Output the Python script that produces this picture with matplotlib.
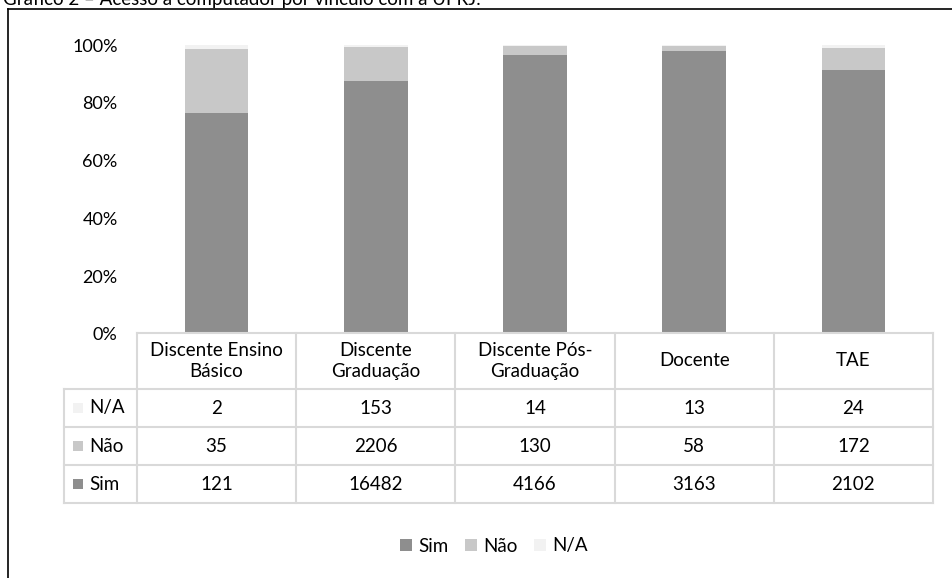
import matplotlib.pyplot as plt
from matplotlib.lines import Line2D
from matplotlib.patches import Rectangle
from matplotlib.transforms import blended_transform_factory
import numpy as np

plt.rcParams['font.family'] = ['Lato', 'DejaVu Sans']

TITLE = "Gráfico 2 – Acesso a computador por vínculo com a UFRJ."
categories = ["Discente Ensino\nBásico", "Discente\nGraduação",
              "Discente Pós-\nGraduação", "Docente", "TAE"]
sim = [121, 16482, 4166, 3163, 2102]
nao = [35, 2206, 130, 58, 172]
na = [2, 153, 14, 13, 24]

series = [("Sim", sim, "#8e8e8e"), ("Não", nao, "#c8c8c8"), ("N/A", na, "#f2f2f2")]
FS = 13.5

W, H = 953, 578
fig = plt.figure(figsize=(W / 100, H / 100), dpi=100)

# axes placed in pixel terms
ax_left, ax_right, ax_top, ax_bottom = 137, 933, 45, 334
ax = fig.add_axes([ax_left / W, 1 - ax_bottom / H,
                   (ax_right - ax_left) / W, (ax_bottom - ax_top) / H])

x = np.arange(len(categories))
totals = np.array(sim) + np.array(nao) + np.array(na)
bottom = np.zeros(len(categories))
handles = []
for name, vals, col in series:
    frac = np.array(vals) / totals
    b = ax.bar(x, frac, 0.4, bottom=bottom, color=col, label=name)
    handles.append(b)
    bottom += frac

ax.set_xlim(-0.5, len(categories) - 0.5)
ax.set_ylim(0, 1)
ticks = np.arange(0, 1.01, 0.2)
ax.set_yticks(ticks)
ax.set_yticklabels([f"{int(round(v * 100))}%" for v in ticks], fontsize=13)
ax.tick_params(axis='y', length=0, pad=14)
ax.set_xticks([])
for s in ax.spines.values():
    s.set_visible(False)

# data table below the axes
tr = blended_transform_factory(ax.transData, fig.transFigure)
grid = "#d9d9d9"
row_y = [333, 389, 427, 465, 503]
fy = lambda p: 1 - p / H
col_w = (ax_right - ax_left) / len(categories)
lab_left = -0.5 - (ax_left - 64) / col_w
xr = len(categories) - 0.5

fig.add_artist(Line2D([-0.5, xr], [fy(row_y[0])] * 2, transform=tr, color=grid, lw=1.5))
for yy in row_y[1:]:
    fig.add_artist(Line2D([lab_left, xr], [fy(yy)] * 2, transform=tr, color=grid, lw=1.5))
for i in range(len(categories) + 1):
    fig.add_artist(Line2D([i - 0.5] * 2, [fy(row_y[0]), fy(row_y[-1])], transform=tr, color=grid, lw=1.5))
fig.add_artist(Line2D([lab_left] * 2, [fy(row_y[1]), fy(row_y[-1])], transform=tr, color=grid, lw=1.5))

for i, c in enumerate(categories):
    fig.text(i, fy((row_y[0] + row_y[1]) / 2), c, transform=tr, ha='center', va='center',
             fontsize=FS, linespacing=1.3)

# rows: N/A, Não, Sim
for r, (name, vals, col) in enumerate(series[::-1]):
    yc = fy((row_y[r + 1] + row_y[r + 2]) / 2)
    for i, v in enumerate(vals):
        fig.text(i, yc, str(v), transform=tr, ha='center', va='center', fontsize=FS)
    fig.add_artist(Rectangle((lab_left + 9 / col_w, yc - 5 / H), 10 / col_w, 10 / H,
                             transform=tr, color=col, lw=0))
    fig.text(lab_left + 25 / col_w, yc, name, transform=tr, ha='left', va='center', fontsize=FS)

fig.legend(handles=handles, loc='center', bbox_to_anchor=(494 / W, fy(546)),
           ncol=3, frameon=False, fontsize=FS, handlelength=0.65, handleheight=0.65,
           handletextpad=0.3, columnspacing=0.9)

# outer frame and the caption clipped by the page edge
fig.add_artist(Line2D([8 / W, 8 / W], [fy(9), 0], color="black", lw=1.2))
fig.add_artist(Line2D([8 / W, 1], [fy(9), fy(9)], color="black", lw=1.2))
fig.text(3 / W, fy(5), TITLE, ha='left', va='baseline', fontsize=13.5)

fig.savefig("out.png", dpi=100)
